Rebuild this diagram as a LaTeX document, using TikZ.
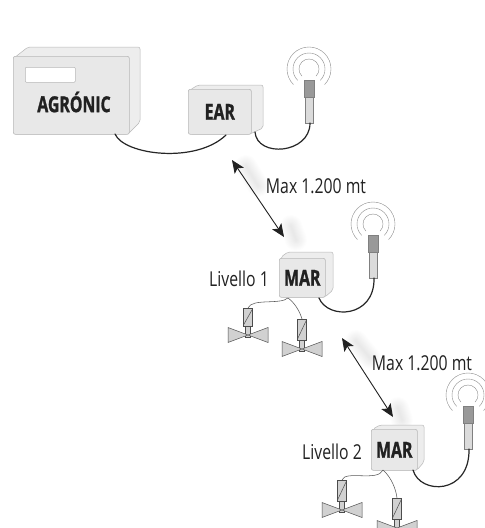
\documentclass[tikz,border=0pt]{standalone}
\usepackage{fontspec}
\setmainfont[FakeStretch=0.77,BoldFeatures={FakeStretch=0.72,FakeBold=1.2}]{Open Sans}
\usetikzlibrary{arrows.meta,calc,positioning}
\definecolor{boxfill}{gray}{0.91}
\definecolor{boxback}{gray}{0.93}
\definecolor{boxline}{gray}{0.72}
\definecolor{txt}{gray}{0.13}
\definecolor{valvefill}{gray}{0.82}
\definecolor{sensordark}{gray}{0.60}
\definecolor{sensorlight}{gray}{0.86}
\tikzset{
  x=1pt,y=-1pt,
  front/.style={draw=boxline,fill=boxfill,rounded corners=2pt,line width=0.6pt,inner sep=0pt,anchor=north west,font=\bfseries\fontsize{22}{23}\selectfont,text=txt},
  back/.style={draw=boxline,fill=boxback,rounded corners=2pt,line width=0.5pt,line join=round},
  cable/.style={draw=black!85,line width=1.2pt,line cap=round},
  wire/.style={draw=black!65,line width=0.55pt},
  wave/.style={draw=black!45,line width=0.4pt},
  spanarrow/.style={draw=txt,line width=0.9pt,{Stealth[length=13pt,width=11pt,inset=3pt]}-{Stealth[length=13pt,width=11pt,inset=3pt]}},
  lab/.style={text=txt,font=\fontsize{20.5}{21}\selectfont,inner sep=0pt},
  act/.style={draw=black!70,fill=valvefill,line width=0.5pt},
  glow/.style={draw=black,line cap=round,opacity=0.009},
}
\newcommand{\valve}[4]{% name, centre x, centre y, actuator height
  \coordinate (#1) at (#2,#3);
  \draw[act] ($(#1)+(-2.5,-10)$) rectangle ($(#1)+(2.5,2)$);
  \draw[act] ($(#1)+(-20,-7.5)$) -- ($(#1)+(0,0)$) -- ($(#1)+(20,-7.5)$) -- ($(#1)+(20,7.5)$) -- ($(#1)+(0,0)$) -- ($(#1)+(-20,7.5)$) -- cycle;
  \draw[act] ($(#1)+(-4.5,-10-#4)$) rectangle ($(#1)+(4.5,-9)$);
  \draw[draw=black!70,line width=0.5pt] ($(#1)+(-4.5,-10)$) -- ($(#1)+(4.5,-9-#4)$);
  \coordinate (#1top) at ($(#1)+(0,-10-#4)$);
}
\newcommand{\antenna}[3]{% name, x, wave-centre y
  \coordinate (#1wc) at (#2,#3);
  \foreach \r in {10,16,22} {
    \draw[wave] ($(#1wc)+(-0.707*\r,0.707*\r)$) arc[start angle=225,end angle=-45,radius=\r pt];
  }
  \draw[draw=black!50,fill=sensorlight,line width=0.5pt] ($(#1wc)+(-4,28)$) rectangle ($(#1wc)+(4,54)$);
  \draw[draw=black!50,fill=sensordark,line width=0.5pt] ($(#1wc)+(-5,11)$) rectangle ($(#1wc)+(5,28)$);
  \coordinate (#1end) at ($(#1wc)+(1,54)$);
}
\newcommand{\glowline}[2]{%
  \foreach \w in {2,4,6,8,10,12,14,16,18,20,22} {\draw[glow,line width=\w pt] #1 -- #2;}
}
\begin{document}
\begin{tikzpicture}
\useasboundingbox (0,0) rectangle (485,528);
\clip (0,0) rectangle (485,528);
\fill[white] (0,0) rectangle (485,528);

% spanarrow shadows
\glowline{(246,166)}{(258,186)}
\glowline{(291,226)}{(296,240)}
\glowline{(356,341)}{(370,358)}
\glowline{(398,408)}{(402,420)}

% AGRONIC
\draw[back] (14,58) -- (28,47) -- (140,47) -- (140,122) -- (128,134) -- (14,134) -- cycle;
\node[front,minimum width=116pt,minimum height=78pt] (agr) at (13,56) {};
\node[draw=boxline,fill=white,rounded corners=1pt,line width=0.5pt,minimum width=50pt,minimum height=15pt,inner sep=0pt,anchor=north west] (disp) at (25,67) {};
\node[inner sep=0pt,text=txt,font=\bfseries\fontsize{22}{23}\selectfont] (agrlabel) at (74,102) {AGRÓNIC};

% EAR
\draw[back] (190,90) -- (198,85) -- (263,85) -- (263,128) -- (250,134) -- (190,134) -- cycle;
\node[front,minimum width=63pt,minimum height=45pt] (ear) at (188,89) {EAR};

% Cable AGRONIC-EAR
\coordinate (agrport) at (115,134);
\coordinate (earport) at (226,135);
\draw[cable] (agrport) .. controls (124,155) and (196,164) .. (earport);

% Antenna 1
\antenna{a}{309}{69}
\coordinate (earout) at (255,132);
\draw[cable] (earout) .. controls (257,158) and (310,154) .. (aend);

% Arrow 1
\coordinate (d1a) at (232,160);
\coordinate (d1b) at (284,237);
\draw[spanarrow] (d1a) -- (d1b);
\node[lab,anchor=center] (m1) at (316,186) {Max 1.200 mt};

% MAR 1
\draw[back] (281,257) -- (288,252) -- (333,252) -- (333,290) -- (325,297) -- (281,297) -- cycle;
\node[front,minimum width=46pt,minimum height=39pt] (mar1) at (279,258) {MAR};
\node[lab,anchor=center] (l1) at (239,279) {Livello 1};

% Antenna 2
\antenna{b}{373}{224}
\coordinate (mar1out) at (319,298);
\draw[cable] (mar1out) .. controls (328,320) and (375,318) .. (bend);

% Valves 1
\valve{v1}{248}{335}{17}
\valve{v2}{302}{349}{20}
\coordinate (mar1v) at (288,298);
\draw[wire] (mar1v) .. controls (280,305) and (252,298) .. (v1top);
\draw[wire] (mar1v) .. controls (295,303) and (300,312) .. (v2top);

% Arrow 2
\coordinate (d2a) at (342,338);
\coordinate (d2b) at (393,417);
\draw[spanarrow] (d2a) -- (d2b);
\node[lab,anchor=center] (m2) at (422,363) {Max 1.200 mt};

% MAR 2
\draw[back] (373,429) -- (380,425) -- (424,425) -- (424,462) -- (417,470) -- (373,470) -- cycle;
\node[front,minimum width=46pt,minimum height=41pt] (mar2) at (371,429) {MAR};
\node[lab,anchor=center] (l2) at (332,452) {Livello 2};

% Antenna 3
\antenna{c}{468}{395}
\coordinate (mar2out) at (413,470);
\draw[cable] (mar2out) .. controls (420,495) and (470,495) .. (cend);

% Valves 2
\valve{v3}{342}{510}{20}
\valve{v4}{397}{528}{20}
\coordinate (mar2v) at (383,470);
\draw[wire] (mar2v) .. controls (378,482) and (345,470) .. (v3top);
\draw[wire] (mar2v) .. controls (392,478) and (396,490) .. (v4top);
\end{tikzpicture}
\end{document}
